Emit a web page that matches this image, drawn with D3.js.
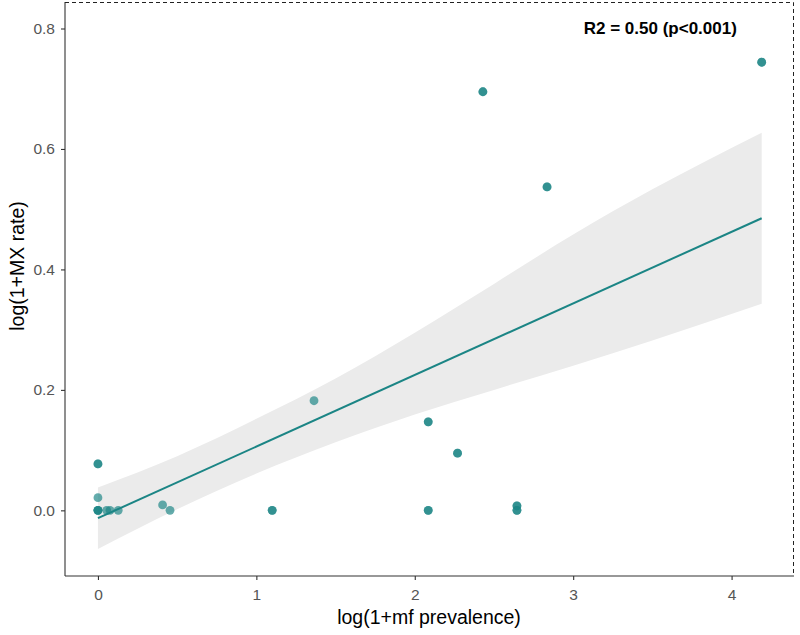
<!DOCTYPE html>
<html>
<head>
<meta charset="utf-8">
<script src="https://cdn.jsdelivr.net/npm/d3@7"></script>
<style>
  html, body { margin: 0; padding: 0; background: #fff; }
  svg { display: block; font-family: "Liberation Sans", Arial, sans-serif; }
</style>
</head>
<body>
<svg id="chart" width="800" height="635"></svg>
<script>
// ---- data ----
// observed points (overlapping observations listed more than once)
const pointX = [0, 0, 0, 0, 0, 0, 0.055, 0.076, 0.128, 0.408, 0.455, 1.10, 1.10,
                1.364, 2.085, 2.085, 2.085, 2.085, 2.27, 2.27, 2.43, 2.43,
                2.645, 2.645, 2.645, 2.645, 2.835, 2.835, 4.19, 4.19];
const pointY = [0.077, 0.077, 0.021, 0, 0, 0, 0, 0, 0, 0.009, 0, 0, 0,
                0.182, 0.147, 0.147, 0, 0, 0.095, 0.095, 0.695, 0.695,
                0.0075, 0.0075, 0, 0, 0.537, 0.537, 0.744, 0.744];

// fitted regression line
const fitX = [0, 4.19];
const fitY = [-0.013, 0.485];

// 95% confidence band
const bandX     = [0, 0.5, 1, 1.5, 2, 2.5, 3, 3.5, 4.19];
const bandLower = [-0.064, 0.002, 0.061, 0.113, 0.159, 0.200, 0.240, 0.282, 0.343];
const bandUpper = [0.038, 0.090, 0.152, 0.219, 0.295, 0.376, 0.458, 0.533, 0.627];

const xTicks = [0, 1, 2, 3, 4];
const yTicks = [0.0, 0.2, 0.4, 0.6, 0.8];

const xTitle = "log(1+mf prevalence)";
const yTitle = "log(1+MX rate)";
const annotation = "R2 = 0.50 (p<0.001)";
const annotX = 3.55, annotY = 0.80;

// ---- layout ----
const panel = { left: 65, right: 794, top: 2, bottom: 576 };
const svg = d3.select("#chart");

const x = d3.scaleLinear().domain([-0.208, 4.394]).range([panel.left, panel.right]);
const y = d3.scaleLinear().domain([-0.109, 0.844]).range([panel.bottom, panel.top]);

const teal = "#1b8585";

// confidence band
const band = bandX.map((d, i) => ({ x: d, lo: bandLower[i], hi: bandUpper[i] }));
svg.append("path")
  .datum(band)
  .attr("fill", "#ebebeb")
  .attr("d", d3.area().x(d => x(d.x)).y0(d => y(d.lo)).y1(d => y(d.hi)).curve(d3.curveMonotoneX));

// fit line
svg.append("path")
  .datum(fitX.map((d, i) => ({ x: d, y: fitY[i] })))
  .attr("fill", "none")
  .attr("stroke", teal)
  .attr("stroke-width", 2)
  .attr("d", d3.line().x(d => x(d.x)).y(d => y(d.y)));

// points
svg.append("g")
  .selectAll("circle")
  .data(pointX.map((d, i) => ({ x: d, y: pointY[i] })))
  .join("circle")
  .attr("cx", d => x(d.x))
  .attr("cy", d => y(d.y))
  .attr("r", 4.4)
  .attr("fill", teal)
  .attr("fill-opacity", 0.68);

// axes
const xAxis = svg.append("g")
  .attr("transform", `translate(0,${panel.bottom})`)
  .call(d3.axisBottom(x).tickValues(xTicks).tickFormat(d3.format("d")).tickSizeOuter(0).tickSize(4).tickPadding(9));
const yAxis = svg.append("g")
  .attr("transform", `translate(${panel.left},0)`)
  .call(d3.axisLeft(y).tickValues(yTicks).tickFormat(d3.format(".1f")).tickSizeOuter(0).tickSize(4).tickPadding(6));

[xAxis, yAxis].forEach(g => {
  g.select(".domain").attr("stroke", "#333").attr("stroke-width", 1.1);
  g.selectAll(".tick line").attr("stroke", "#333").attr("stroke-width", 1.1);
  g.selectAll(".tick text").attr("fill", "#555").style("font-size", "15.5px");
});
// extend the axis lines across the whole panel
xAxis.select(".domain").attr("d", `M${panel.left},0H${panel.right}`);
yAxis.select(".domain").attr("d", `M0,${panel.top}V${panel.bottom}`);

// dashed top and right border
svg.append("path")
  .attr("d", `M${panel.left},${panel.top + 0.5}H${panel.right - 0.5}V${panel.bottom}`)
  .attr("fill", "none")
  .attr("stroke", "#222")
  .attr("stroke-width", 1)
  .attr("stroke-dasharray", "4,3");

// titles
svg.append("text")
  .attr("x", 429)
  .attr("y", 624)
  .attr("text-anchor", "middle")
  .attr("fill", "#000")
  .style("font-size", "19.5px")
  .text(xTitle);

svg.append("text")
  .attr("transform", `translate(24,266) rotate(-90)`)
  .attr("text-anchor", "middle")
  .attr("fill", "#000")
  .style("font-size", "19.5px")
  .text(yTitle);

// annotation
svg.append("text")
  .attr("x", x(annotX))
  .attr("y", y(annotY))
  .attr("dy", "0.35em")
  .attr("text-anchor", "middle")
  .attr("fill", "#000")
  .style("font-size", "17px")
  .style("font-weight", "bold")
  .text(annotation);
</script>
</body>
</html>
